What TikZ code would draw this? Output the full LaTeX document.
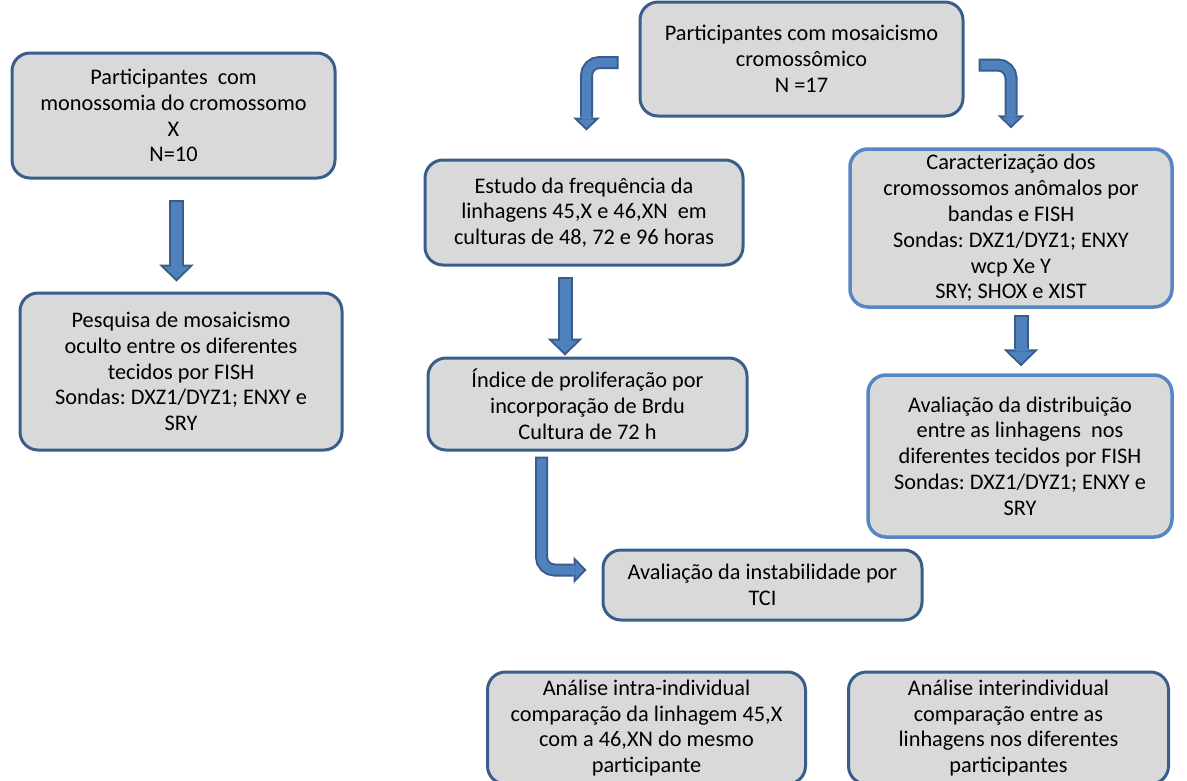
\documentclass[tikz,border=0pt]{standalone}
\usepackage{fontspec}
\setmainfont{Carlito}
\frenchspacing
\usetikzlibrary{calc, positioning, arrows.meta}
\definecolor{BoxFill}{RGB}{217,217,217}
\definecolor{BoxLine}{RGB}{58,94,140}
\definecolor{BoxLineLight}{RGB}{88,134,194}
\definecolor{ArrowFill}{RGB}{79,129,189}
\definecolor{ArrowLine}{RGB}{56,93,138}

\begin{document}
\begin{tikzpicture}[
  x=1pt, y=-1pt,
  font=\fontsize{22.3}{25.8}\selectfont,
  box/.style={draw=BoxLine, fill=BoxFill, line width=3pt, rounded corners=18pt,
    align=center, inner sep=0pt, text=black},
  boxlight/.style={box, draw=BoxLineLight, line width=3.5pt},
  bigarrow/.style={draw=ArrowFill, line width=11pt, shorten <=2pt, shorten >=2.8pt,
    -{Triangle[width=25pt, length=12pt, line width=0pt]},
    preaction={draw=ArrowLine, line width=15pt, shorten <=0pt, shorten >=0pt,
      -{Triangle[width=35pt, length=17pt, line width=0pt]}}},
  bentarrow/.style={draw=ArrowFill, line width=9pt, rounded corners=13pt,
    shorten <=2pt, shorten >=2.8pt,
    -{Triangle[width=17pt, length=8pt, line width=0pt]},
    preaction={draw=ArrowLine, line width=13pt, shorten <=0pt, shorten >=0pt,
      -{Triangle[width=27pt, length=13pt, line width=0pt]}}},
]
\useasboundingbox (0,0) rectangle (1187,780);
\fill[white] (0,0) rectangle (1187,780);

% Left column: monossomia
\node[box, minimum width=323pt, minimum height=125pt] (mono) at (173.5,115.5)
  {Participantes\ \ com\\monossomia do cromossomo\\X\\N=10};
\node[box, minimum width=322pt, minimum height=157pt] (oculto) at (181,371.5)
  {Pesquisa de mosaicismo\\oculto entre os diferentes\\tecidos por FISH\\Sondas: DXZ1/DYZ1; ENXY e\\SRY};

% Top: mosaicismo
\node[box, minimum width=323pt, minimum height=114pt] (mosaic) at (801.5,59)
  {Participantes com mosaicismo\\cromossômico\\N =17};

% Middle column: linhagens
\node[box, minimum width=318pt, minimum height=105pt] (freq) at (584,212.5)
  {Estudo da frequência da\\linhagens 45,X e 46,XN\ \ em\\culturas de 48, 72 e 96 horas};
\node[box, minimum width=319pt, minimum height=92pt] (prolif) at (587.5,404)
  {Índice de proliferação por\\incorporação de Brdu\\Cultura de 72 h};
\node[box, minimum width=319pt, minimum height=70pt] (instab) at (762.5,585)
  {Avaliação da instabilidade por\\TCI};

% Right column: cromossomos anomalos
\node[boxlight, minimum width=322pt, minimum height=158pt] (carac) at (1011,228)
  {Caracterização dos\\cromossomos anômalos por\\bandas e FISH\\Sondas: DXZ1/DYZ1; ENXY\\wcp Xe Y\\SRY; SHOX e XIST};
\node[boxlight, minimum width=304pt, minimum height=162pt] (distrib) at (1020,456)
  {Avaliação da distribuição\\entre as linhagens\ \ nos\\diferentes tecidos por FISH\\Sondas: DXZ1/DYZ1; ENXY e\\SRY};

% Bottom row: analises
\node[box, minimum width=318pt, minimum height=112pt] (intra) at (646.5,728)
  {Análise intra-individual\\comparação da linhagem 45,X\\com a 46,XN do mesmo\\participante};
\node[box, minimum width=320pt, minimum height=112pt] (inter) at (1008.5,728)
  {Análise interindividual\\comparação entre as\\linhagens nos diferentes\\participantes};

% Arrows
\draw[bigarrow] ($(mono.south)+(3,20)$) -- ($(mono.south |- oculto.north)+(3,-10)$);
\draw[bigarrow] ($(freq.south)+(-19,10)$) -- ($(freq.south |- prolif.north)+(-19,-1)$);
\draw[bigarrow] ($(carac.south)+(10,6)$) -- ($(carac.south |- distrib.north)+(10,-7)$);
\draw[bentarrow] ($(mosaic.west)+(-20,3.5)$) -| ($(freq.north)+(2.5,-28)$);
\draw[bentarrow] ($(mosaic.east)+(14,6)$) -| ($(carac.north)+(0,-19)$);
\draw[bentarrow] ($(prolif.south)+(-46,5)$) |- ($(instab.west)+(-15,-15)$);

\end{tikzpicture}
\end{document}
